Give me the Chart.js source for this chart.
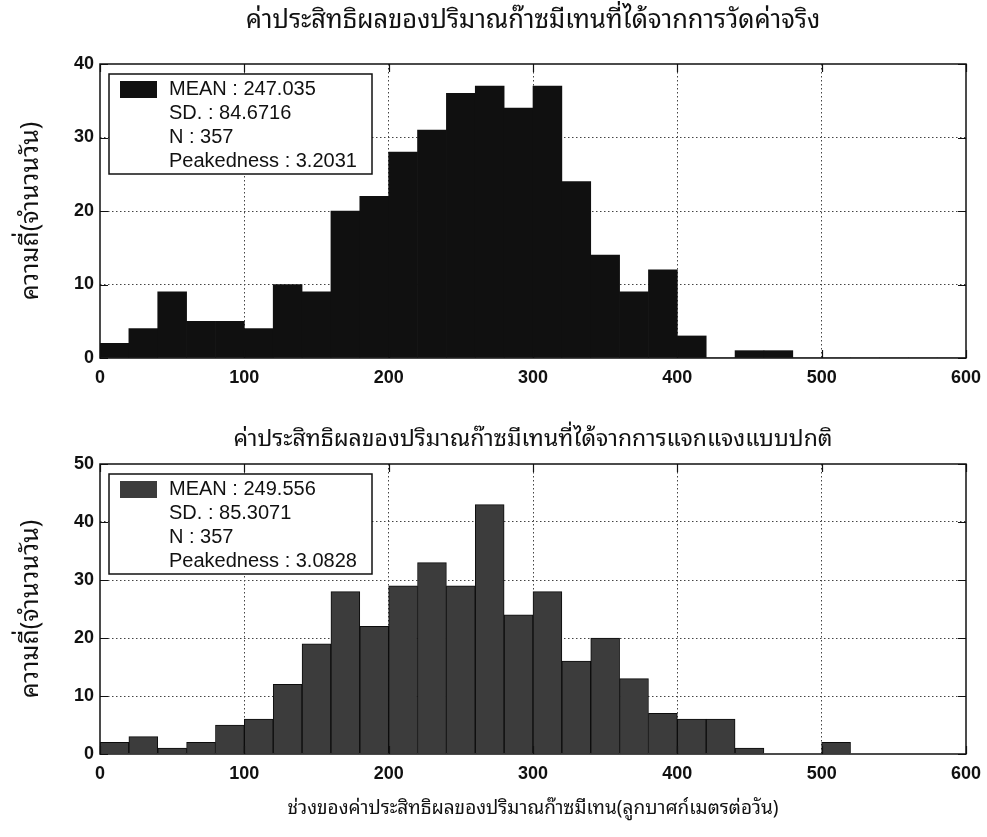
<!DOCTYPE html>
<html>
<head>
<meta charset="utf-8">
<script src="https://cdn.jsdelivr.net/npm/chart.js@4.4.0/dist/chart.umd.min.js"></script>
<style>
  html, body { margin:0; padding:0; background:#fff; }
  .panel { position:absolute; left:0; width:987px; }
</style>
</head>
<body>
<div class="panel" style="top:0;height:400px"><canvas id="measured" width="987" height="400"></canvas></div>
<div class="panel" style="top:400px;height:437px"><canvas id="normal" width="987" height="437"></canvas></div>
<script>
// histogram bins, 20 m3/day wide, from 0 to 600
const binCenters = [10, 30, 50, 70, 90, 110, 130, 150, 170, 190, 210, 230, 250, 270, 290,
                    310, 330, 350, 370, 390, 410, 430, 450, 470, 490, 510, 530, 550, 570, 590];
const measuredCounts = [2, 4, 9, 5, 5, 4, 10, 9, 20, 22, 28, 31, 36, 37, 34,
                        37, 24, 14, 9, 12, 3, 0, 1, 1, 0, 0, 0, 0, 0, 0];
const normalCounts   = [2, 3, 1, 2, 5, 6, 12, 19, 28, 22, 29, 33, 29, 43, 24,
                        28, 16, 20, 13, 7, 6, 6, 1, 0, 0, 2, 0, 0, 0, 0];
const measuredStats = ['MEAN : 247.035', 'SD. : 84.6716', 'N : 357', 'Peakedness : 3.2031'];
const normalStats   = ['MEAN : 249.556', 'SD. : 85.3071', 'N : 357', 'Peakedness : 3.0828'];

const measuredTitle = 'ค่าประสิทธิผลของปริมาณก๊าซมีเทนที่ได้จากการวัดค่าจริง';
const normalTitle   = 'ค่าประสิทธิผลของปริมาณก๊าซมีเทนที่ได้จากการแจกแจงแบบปกติ';
const yTitle = 'ความถี่(จำนวนวัน)';
const xTitle = 'ช่วงของค่าประสิทธิผลของปริมาณก๊าซมีเทน(ลูกบาศก์เมตรต่อวัน)';

const THAI = '"Noto Sans Thai Looped", "Noto Serif Thai", "Noto Sans Thai", Loma, Garuda, "Noto Sans", sans-serif';
const ARIAL = '"Liberation Sans", Arial, sans-serif';

// title centred over the plot box rather than the whole canvas
const axesTitle = {
  id: 'axesTitle',
  afterDraw(chart, args, opts) {
    const { ctx, chartArea: a } = chart;
    ctx.save();
    ctx.fillStyle = '#111';
    ctx.font = opts.size + 'px ' + THAI;
    ctx.textAlign = 'center';
    ctx.textBaseline = 'middle';
    ctx.fillText(opts.text, (a.left + a.right) / 2, opts.y);
    ctx.restore();
  }
};

// box around the plot plus MATLAB-style inward ticks on all four sides
const frameTicks = {
  id: 'frameTicks',
  afterDatasetsDraw(chart) {
    const { ctx, chartArea: a, scales: { x, y } } = chart;
    const len = 8;
    ctx.save();
    ctx.strokeStyle = '#111';
    ctx.lineWidth = 1.2;
    ctx.beginPath();
    x.ticks.forEach(t => {
      const px = Math.round(x.getPixelForValue(t.value)) + 0.5;
      ctx.moveTo(px, a.bottom); ctx.lineTo(px, a.bottom - len);
      ctx.moveTo(px, a.top);    ctx.lineTo(px, a.top + len);
    });
    y.ticks.forEach(t => {
      const py = Math.round(y.getPixelForValue(t.value)) + 0.5;
      ctx.moveTo(a.left, py);  ctx.lineTo(a.left + len, py);
      ctx.moveTo(a.right, py); ctx.lineTo(a.right - len, py);
    });
    ctx.stroke();
    ctx.lineWidth = 1.5;
    ctx.strokeRect(a.left, a.top, a.right - a.left, a.bottom - a.top);
    ctx.restore();
  }
};

// statistics box in the upper left corner
const statsBox = {
  id: 'statsBox',
  afterDraw(chart, args, opts) {
    const { ctx, chartArea: a } = chart;
    const bx = a.left + 9, by = a.top + 10, bw = 263, bh = 100;
    ctx.save();
    ctx.fillStyle = '#fff';
    ctx.fillRect(bx, by, bw, bh);
    ctx.strokeStyle = '#111';
    ctx.lineWidth = 1.5;
    ctx.strokeRect(bx, by, bw, bh);
    ctx.fillStyle = opts.swatch;
    ctx.fillRect(bx + 11, by + 7, 37, 17);
    ctx.fillStyle = '#111';
    ctx.font = '20px ' + ARIAL;
    ctx.textBaseline = 'middle';
    opts.lines.forEach((s, i) => ctx.fillText(s, bx + 60, by + 15 + i * 24));
    ctx.restore();
  }
};

function histogram(id, counts, opt) {
  return new Chart(document.getElementById(id), {
    type: 'bar',
    data: {
      datasets: [{
        data: binCenters.map((c, i) => ({ x: c, y: counts[i] })),
        backgroundColor: opt.fill,
        borderColor: opt.edge,
        borderWidth: opt.edgeWidth,
        barPercentage: 1,
        categoryPercentage: 1,
      }]
    },
    options: {
      responsive: false,
      animation: false,
      layout: { padding: { left: 0, right: 21, top: 64, bottom: 0 } },
      plugins: {
        legend: { display: false },
        tooltip: { enabled: false },
        axesTitle: { text: opt.title, size: opt.titleSize, y: opt.titleY },
        statsBox: { lines: opt.stats, swatch: opt.swatch },
      },
      scales: {
        x: {
          type: 'linear', min: 0, max: 600, offset: false,
          afterFit: s => { s.height = opt.xHeight; s.paddingLeft = 0; s.paddingRight = 0; },
          ticks: { stepSize: 100, color: '#111', padding: 9, maxRotation: 0,
                   font: { family: ARIAL, size: 18, weight: 'bold' } },
          grid: {
            drawTicks: false, offset: false, lineWidth: 1,
            color: c => (c.tick.value === 0 || c.tick.value === 600) ? 'rgba(0,0,0,0)' : '#444',
          },
          border: { display: false, dash: [1.5, 2.5] },
          title: {
            display: !!opt.xTitle, text: opt.xTitle || '', color: '#111',
            font: { family: THAI, size: 19 }, padding: { top: 0, bottom: 17 },
          },
        },
        y: {
          min: 0, max: opt.yMax,
          afterFit: s => { s.width = 100; s.paddingTop = 0; s.paddingBottom = 0; },
          ticks: { stepSize: 10, color: '#111', padding: 6,
                   font: { family: ARIAL, size: 18, weight: 'bold' } },
          grid: {
            drawTicks: false, lineWidth: 1,
            color: c => (c.tick.value === 0 || c.tick.value === opt.yMax) ? 'rgba(0,0,0,0)' : '#444',
          },
          border: { display: false, dash: [1.5, 2.5] },
          title: {
            display: true, text: yTitle, color: '#111',
            font: { family: THAI, size: 25 }, padding: { top: 16, bottom: 0 },
          },
        },
      },
    },
    plugins: [frameTicks, statsBox, axesTitle],
  });
}

histogram('measured', measuredCounts, {
  title: measuredTitle, titleSize: 25.5, titleY: 21,
  stats: measuredStats, fill: '#101010', edge: '#101010', edgeWidth: 0, swatch: '#101010',
  yMax: 40, xHeight: 42,
});

histogram('normal', normalCounts, {
  title: normalTitle, titleSize: 23, titleY: 40,
  stats: normalStats, fill: '#3c3c3c', edge: '#0c0c0c', edgeWidth: 1, swatch: '#3c3c3c',
  yMax: 50, xHeight: 83, xTitle: xTitle,
});
</script>
</body>
</html>
